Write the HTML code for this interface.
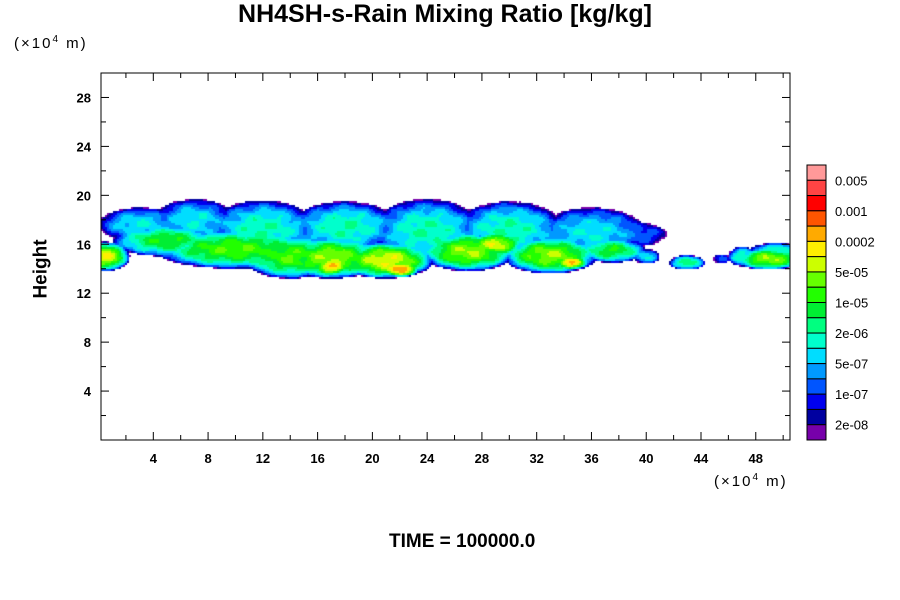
<!DOCTYPE html>
<html><head><meta charset="utf-8"><style>
body{margin:0;background:#fff;width:900px;height:600px;overflow:hidden;position:relative;font-family:"Liberation Sans",sans-serif}
.t{position:absolute;white-space:nowrap;color:#000}
#cv{position:absolute;left:101px;top:73px}
</style></head><body>
<div class="t" style="left:0;width:890px;text-align:center;top:0;font-size:25px;font-weight:bold">NH4SH-s-Rain Mixing Ratio [kg/kg]</div>
<div class="t" style="left:14px;top:34px;font-size:15px;letter-spacing:2px">(×10<sup style="font-size:10px">4</sup> m)</div>
<div class="t" style="left:714px;top:472px;font-size:15px;letter-spacing:2px">(×10<sup style="font-size:10px">4</sup> m)</div>
<div class="t" style="left:12px;top:258px;font-size:19px;font-weight:bold;transform:rotate(-90deg)">Height</div>
<div class="t" style="left:389px;top:531px;font-size:19px;font-weight:bold">TIME = 100000.0</div>
<canvas id="cv" width="689" height="367"></canvas>
<svg id="sv" width="900" height="600" style="position:absolute;left:0;top:0"></svg>
<script>
const xTicks=[4,8,12,16,20,24,28,32,36,40,44,48];
const yTicks=[4,8,12,16,20,24,28];
const levelColors=["#7700aa","#0000a0","#0000ee","#0055ff","#0099ff","#00ddff","#00ffcc","#00ff80","#00ee33","#22ff00","#66ff00","#ccff00","#ffee00","#ffaa00","#ff5500","#ff0000","#ff4444","#ff9999"];
const levelLabels=["2e-08","1e-07","5e-07","2e-06","1e-05","5e-05","0.0002","0.001","0.005"];
const blobX=[3,7,12,18,24,30,36,39,5,10,14,17,21,17,22,27,29,33,34.5,37.5,0.5,40,43,45.5,47,49,49.5];
const blobY=[17.6,17.9,17.2,17.4,17.1,17.2,16.9,16.8,16.3,15.6,15.0,14.9,14.7,14.2,14.0,15.4,16.0,15.1,14.5,15.5,15.0,15.0,14.5,14.8,15.0,14.8,15.5];
const blobRx=[3,3,4,4,4,4,4,2.5,4,6,3.5,4,3.5,1.5,1.5,3.5,2,3.5,1.3,2.5,1.8,1,1.3,0.6,1,2.5,2];
const blobRy=[1.4,1.8,2.4,2.1,2.6,2.3,2.1,1.0,1.3,1.6,1.8,1.7,1.5,0.8,0.7,1.6,1.0,1.5,0.6,1.0,1.2,0.6,0.6,0.4,0.8,0.9,0.6];
const blobPeak=[6,6,7,7,7,7,6,4,9,10,10,11,12,13,14,11,12,11,13,9,12,6,8,4,7,11,7];
const X0=0.18,X1=50.5,Y0=0,Y1=30,L=101,T=73,W=689,H=367;
const xs=v=>L+(v-X0)/(X1-X0)*W, ys=v=>T+H-(v-Y0)/(Y1-Y0)*H;
const ctx=document.getElementById('cv').getContext('2d');
const cs=2;
for(let px=0;px<W;px+=cs)for(let py=0;py<H;py+=cs){
  const vx=X0+(px+1)/W*(X1-X0), vy=Y1-(py+1)/H*(Y1-Y0);
  let f=0;
  for(let i=0;i<blobX.length;i++){
    const dx=(vx-blobX[i])/blobRx[i],dy=(vy-blobY[i])/blobRy[i];
    const r2=dx*dx+dy*dy;
    if(r2>=1)continue;
    const v=1+blobPeak[i]*Math.pow(1-r2,0.6);
    if(v>f)f=v;
  }
  if(f>1.5)f+=0.8*Math.sin(vx*2.7+vy)*Math.sin(vy*4.1-vx*0.6);
  const lv=Math.floor(f);
  if(lv>=1){ctx.fillStyle=levelColors[Math.min(lv,18)-1];ctx.fillRect(px,py,cs,cs);}
}
const sv=document.getElementById('sv');const NS="http://www.w3.org/2000/svg";
function el(t,a,txt){const e=document.createElementNS(NS,t);for(const k in a)e.setAttribute(k,a[k]);if(txt!=null)e.textContent=txt;sv.appendChild(e);return e;}
const fr=el('rect',{x:L,y:T,width:W,height:H,fill:'none',stroke:'#000','stroke-width':1});


for(let v=2;v<X1;v+=2){const maj=v%4===0,len=maj?8:5,x=xs(v);
  el('line',{x1:x,x2:x,y1:T+H,y2:T+H-len,stroke:'#000'});el('line',{x1:x,x2:x,y1:T,y2:T+len,stroke:'#000'});}
for(let v=2;v<Y1;v+=2){const maj=v%4===0,len=maj?8:5,y=ys(v);
  el('line',{x1:L,x2:L+len,y1:y,y2:y,stroke:'#000'});el('line',{x1:L+W,x2:L+W-len,y1:y,y2:y,stroke:'#000'});}
xTicks.forEach(v=>{const t=el('text',{x:xs(v),y:463,'text-anchor':'middle','font-size':13,'font-weight':'bold','font-family':'Liberation Sans'},v);

});
yTicks.forEach(v=>{const t=el('text',{x:91,y:ys(v)+5,'text-anchor':'end','font-size':13,'font-weight':'bold','font-family':'Liberation Sans'},v);

});
const cbT=165,cbB=440,bh=(cbB-cbT)/18;
levelColors.slice().reverse().forEach((c,i)=>{const r=el('rect',{x:807,y:cbT+i*bh,width:19,height:bh,fill:c,stroke:'#000','stroke-width':1});

});
levelLabels.forEach((s,i)=>{const y=cbB-bh-i*2*bh;const t=el('text',{x:835,y:y+5,'font-size':13,'font-family':'Liberation Sans'},s);

});
</script>
</body></html>
